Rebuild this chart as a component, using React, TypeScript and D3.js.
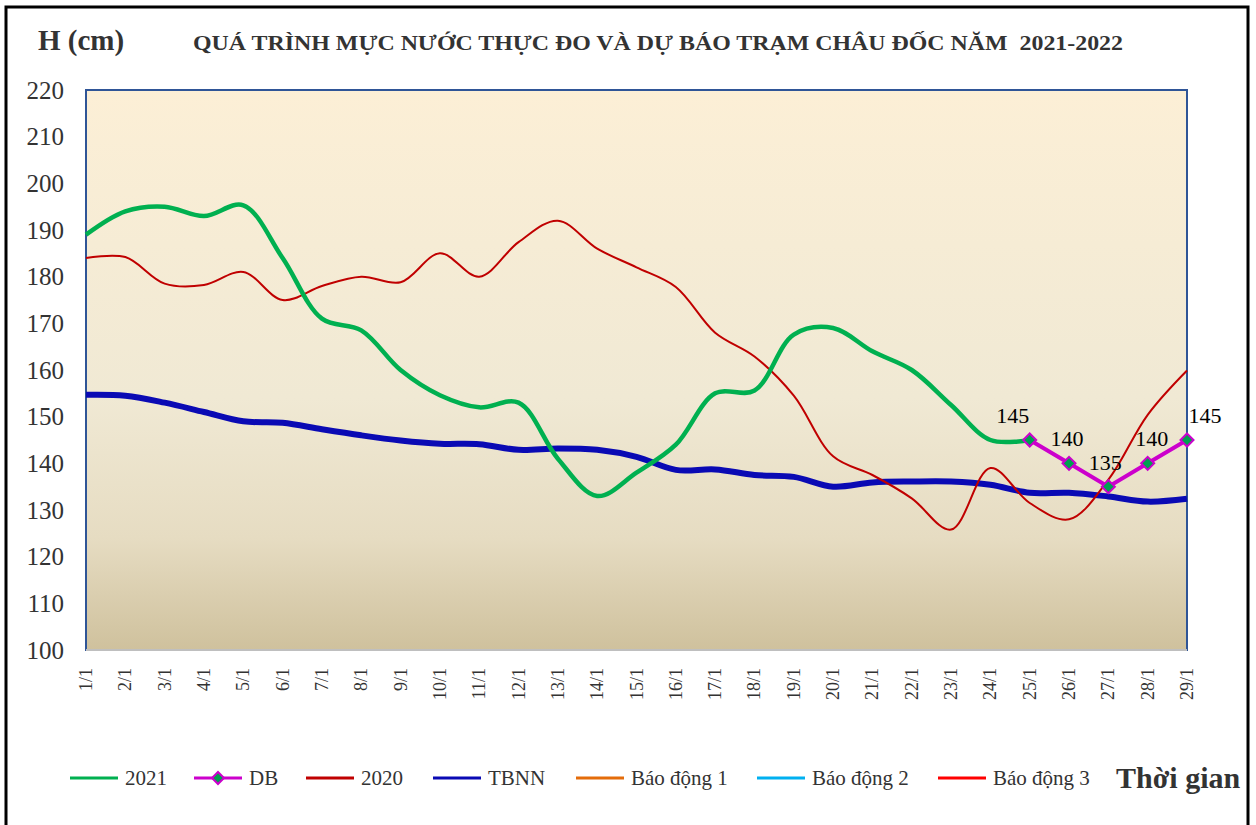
import React from "react";
import * as d3 from "d3";

const days = ["1/1","2/1","3/1","4/1","5/1","6/1","7/1","8/1","9/1","10/1","11/1","12/1","13/1","14/1","15/1","16/1","17/1","18/1","19/1","20/1","21/1","22/1","23/1","24/1","25/1","26/1","27/1","28/1","29/1"];
const yTicks = [100,110,120,130,140,150,160,170,180,190,200,210,220];

const s2021 = [189,194,195,193,195.3,184,171,168.5,160,154.6,152,153,141,133,138,144,155,155.6,167.6,169,164,160,152.5,145,145];
const sDB: (number|null)[] = [null,null,null,null,null,null,null,null,null,null,null,null,null,null,null,null,null,null,null,null,null,null,null,null,145,140,135,140,145];
const s2020 = [184,184.2,178.5,178.2,181,175,178,180,178.8,185,180,187.4,192,186,182,177.8,168,162.9,154.5,141.5,137.5,132.5,125.8,139,131.5,128,136.5,150.4,159.9];
const sTBNN = [154.7,154.5,153,151,149,148.7,147.3,146,144.9,144.2,144.1,142.9,143.2,142.9,141.4,138.6,138.7,137.5,137.1,135,135.9,136.1,136.1,135.4,133.7,133.7,132.9,131.8,132.4];

const legendItems = [
  { name: "2021", color: "#00B050", marker: false },
  { name: "DB", color: "#CC00CC", marker: true },
  { name: "2020", color: "#C00000", marker: false },
  { name: "TBNN", color: "#0A0AB4", marker: false },
  { name: "Báo động 1", color: "#E46C0A", marker: false },
  { name: "Báo động 2", color: "#00B0F0", marker: false },
  { name: "Báo động 3", color: "#FF0000", marker: false },
];
const legendX = [70, 194, 306, 433, 576, 757, 938];
const dbLabelDx = [-17, -2, -3, 4, 18];

export default function App() {
  const W = 1256, H = 825;
  const left = 86, right = 1187, top = 90, bottom = 650;
  const x = d3.scalePoint<string>().domain(days).range([left, right]);
  const y = d3.scaleLinear().domain([100, 220]).range([bottom, top]);
  const serif = "'Liberation Serif', 'Times New Roman', serif";

  const smooth = d3.line<number>()
    .x((_, i) => x(days[i]) as number)
    .y((d) => y(d))
    .curve(d3.curveCatmullRom.alpha(0.5));

  const dbPts = sDB.map((v, i) => ({ v, i })).filter((d) => d.v !== null) as { v: number; i: number }[];
  const dbLine = d3.line<{ v: number; i: number }>()
    .x((d) => x(days[d.i]) as number)
    .y((d) => y(d.v));

  const diamond = (cx: number, cy: number, r: number) =>
    `M${cx},${cy - r}L${cx + r},${cy}L${cx},${cy + r}L${cx - r},${cy}Z`;

  return (
    <svg width={W} height={H} style={{ position: "absolute", left: 0, top: 0, background: "#fff" }} fontFamily={serif}>
      <defs>
        <linearGradient id="bg" x1="0" y1="0" x2="0" y2="1">
          <stop offset="0" stopColor="#FCEFD6" />
          <stop offset="0.55" stopColor="#F0E9D4" />
          <stop offset="0.8" stopColor="#E6DCC2" />
          <stop offset="1" stopColor="#CFC19D" />
        </linearGradient>
      </defs>
      <rect x={6} y={7} width={1242} height={830} fill="#fff" stroke="#000" strokeWidth={3} />
      <rect x={left} y={top} width={right - left} height={bottom - top} fill="url(#bg)" stroke="#2F5597" strokeWidth={2} />
      <line x1={left} x2={right} y1={bottom} y2={bottom} stroke="#BFBFBF" strokeWidth={2} />

      {yTicks.map((t) => (
        <text key={t} x={64} y={y(t)} dy="0.35em" textAnchor="end" fontSize={25} fill="#333">{t}</text>
      ))}
      {days.map((d) => (
        <text key={d} transform={`translate(${(x(d) as number) + 6},668) rotate(-90)`} textAnchor="end" fontSize={18} fill="#333">{d}</text>
      ))}

      <path d={smooth(sTBNN) || ""} fill="none" stroke="#0A0AB4" strokeWidth={6} />
      <path d={smooth(s2020) || ""} fill="none" stroke="#C00000" strokeWidth={2} />
      <path d={smooth(s2021) || ""} fill="none" stroke="#00B050" strokeWidth={4.5} />
      <path d={dbLine(dbPts) || ""} fill="none" stroke="#CC00CC" strokeWidth={4} />
      {dbPts.map((p) => (
        <path key={p.i} d={diamond(x(days[p.i]) as number, y(p.v), 6.5)} fill="#00A050" stroke="#CC00CC" strokeWidth={2} />
      ))}
      {dbPts.map((p, k) => (
        <text key={"l" + p.i} x={(x(days[p.i]) as number) + dbLabelDx[k]} y={y(p.v) - 17} textAnchor="middle" fontSize={22} fill="#000">{p.v}</text>
      ))}

      <text x={38} y={50} fontSize={29} fontWeight="bold" fill="#333">H (cm)</text>
      <text x={193} y={50} fontSize={22} fontWeight="bold" fill="#333" textLength={930} lengthAdjust="spacingAndGlyphs" style={{ whiteSpace: "pre" }}>{"QUÁ TRÌNH MỰC NƯỚC THỰC ĐO VÀ DỰ BÁO TRẠM CHÂU ĐỐC NĂM \u00A02021-2022"}</text>

      {legendItems.map((it, i) => {
        const lx = legendX[i];
        return (
          <g key={it.name}>
            <line x1={lx} x2={lx + 48} y1={778} y2={778} stroke={it.color} strokeWidth={3} />
            {it.marker && <path d={diamond(lx + 24, 778, 6)} fill="#00A050" stroke="#CC00CC" strokeWidth={2} />}
            <text x={lx + 55} y={778} dy="0.35em" fontSize={21} fill="#333">{it.name}</text>
          </g>
        );
      })}
      <text x={1116} y={788} fontSize={30} fontWeight="bold" fill="#333">Thời gian</text>
    </svg>
  );
}
